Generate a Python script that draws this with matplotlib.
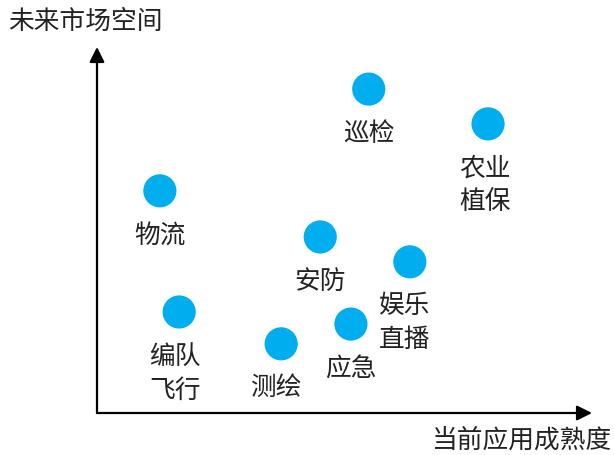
import matplotlib.pyplot as plt

plt.rcParams['font.family'] = ['Noto Sans CJK SC', 'DejaVu Sans']

# application scenarios: current maturity (x) vs. future market space (y), 0-10 scale
labels = ["巡检", "农业\n植保", "物流", "安防", "娱乐\n直播", "编队\n飞行", "测绘", "应急"]
maturity = [5.49, 7.90, 1.27, 4.51, 6.32, 1.66, 3.72, 5.13]
market_space = [8.85, 7.90, 6.07, 4.81, 4.13, 2.76, 1.89, 2.43]

x_title = "当前应用成熟度"
y_title = "未来市场空间"

# small horizontal nudges of the labels (points)
label_dx = [0, -2, 0, 0, -4, -3, -4, 0]

figure = plt.figure(figsize=(6.14, 4.56), dpi=100)
axes = figure.add_axes([97 / 614, 42 / 456, 495 / 614, 366 / 456])
axes.set_xlim(0, 10)
axes.set_ylim(0, 10)
axes.axis("off")

axes.scatter(maturity, market_space, s=570, color="#00AEEF", edgecolors="none", zorder=3)

for name, x, y, dx in zip(labels, maturity, market_space, label_dx):
    axes.annotate(name, (x, y), xytext=(dx, -22), textcoords="offset points",
                  ha="center", va="top", fontsize=18.5, color="#222222",
                  linespacing=1.4)

arrow = dict(arrowstyle="-|>,head_length=0.9,head_width=0.45", color="black",
             lw=1.6, shrinkA=0, shrinkB=0)
axes.annotate("", xy=(1, 0), xytext=(0, 0), xycoords="axes fraction", arrowprops=arrow)
axes.annotate("", xy=(0, 1), xytext=(0, 0), xycoords="axes fraction", arrowprops=arrow)

figure.text(8 / 614, 1 - 22 / 456, y_title, ha="left", va="center", fontsize=18.5, color="#222222")
figure.text(611 / 614, 1 - 441 / 456, x_title, ha="right", va="center", fontsize=18.5, color="#222222")

figure.savefig("out.png", dpi=100)
